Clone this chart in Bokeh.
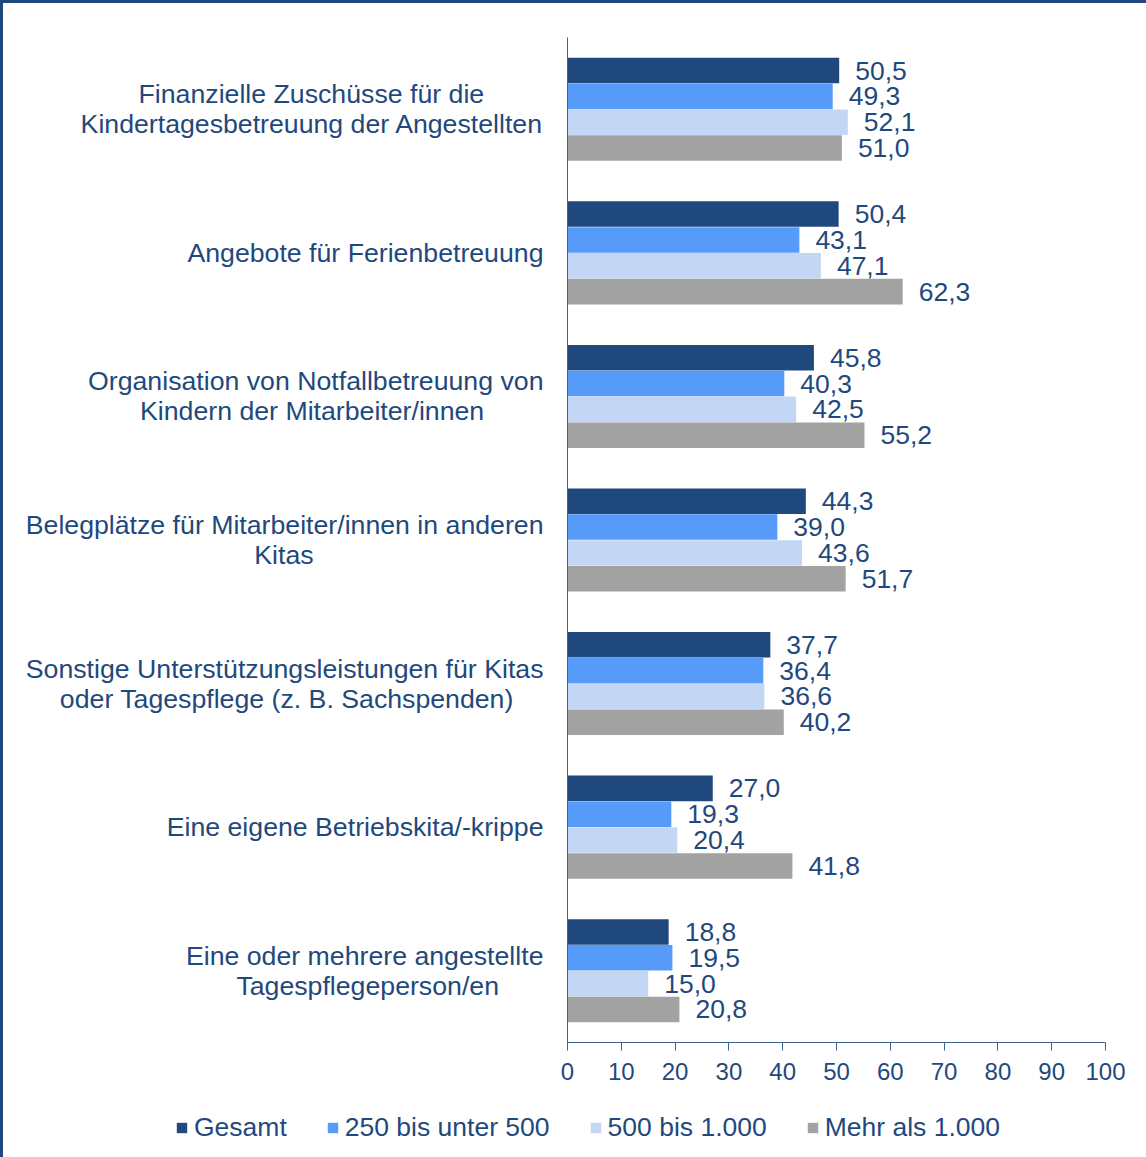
from bokeh.plotting import figure
from bokeh.models import ColumnDataSource, FactorRange, Range1d, Legend, LegendItem, FixedTicker
from bokeh.layouts import column
from bokeh.transform import dodge
from bokeh.core.properties import value
from bokeh.embed import file_html
from bokeh.resources import INLINE

categories = [
    "Finanzielle Zuschüsse für die\nKindertagesbetreuung der Angestellten",
    "Angebote für Ferienbetreuung",
    "Organisation von Notfallbetreuung von\nKindern der Mitarbeiter/innen",
    "Belegplätze für Mitarbeiter/innen in anderen\nKitas",
    "Sonstige Unterstützungsleistungen für Kitas\noder Tagespflege (z. B. Sachspenden)",
    "Eine eigene Betriebskita/-krippe",
    "Eine oder mehrere angestellte\nTagespflegeperson/en",
]
series_names = ["Gesamt", "250 bis unter 500", "500 bis 1.000", "Mehr als 1.000"]
gesamt = [50.5, 50.4, 45.8, 44.3, 37.7, 27.0, 18.8]
s250 = [49.3, 43.1, 40.3, 39.0, 36.4, 19.3, 19.5]
s500 = [52.1, 47.1, 42.5, 43.6, 36.6, 20.4, 15.0]
s1000 = [51.0, 62.3, 55.2, 51.7, 40.2, 41.8, 20.8]
x_ticks = [0, 10, 20, 30, 40, 50, 60, 70, 80, 90, 100]

colors = ["#1F497D", "#579BFA", "#C3D7F4", "#A2A2A2"]
text_color = "#1F497D"
font = "Liberation Sans"

# Arial / Liberation Sans advance widths (per 1000 em), used to centre the
# lines of the multi-line category labels against each other.
W = {' ': 278, 'a': 556, 'b': 556, 'c': 500, 'd': 556, 'e': 556, 'f': 278,
     'g': 556, 'h': 556, 'i': 222, 'j': 222, 'k': 500, 'l': 222, 'm': 833, 'n': 556,
     'o': 556, 'p': 556, 'q': 556, 'r': 333, 's': 500, 't': 278, 'u': 556, 'v': 500,
     'w': 722, 'x': 500, 'y': 500, 'z': 500, 'ü': 556, 'ä': 556, 'ö': 556,
     'A': 667, 'B': 667, 'C': 722, 'D': 722, 'E': 667, 'F': 611, 'G': 778, 'H': 722,
     'I': 278, 'J': 500, 'K': 667, 'L': 556, 'M': 833, 'N': 722, 'O': 778, 'P': 667,
     'Q': 778, 'R': 722, 'S': 667, 'T': 611, 'U': 722, 'V': 667, 'W': 944, 'X': 667,
     'Y': 667, 'Z': 611, '/': 278, '-': 333, '(': 333, ')': 333, '.': 278, ',': 278}

def centre_lines(label):
    lines = label.split("\n")
    if len(lines) == 1:
        return label
    widths = [sum(W.get(ch, 556) for ch in ln) for ln in lines]
    mw = max(widths)
    out = []
    for ln, w in zip(lines, widths):
        n = int(round((mw - w) / 2 / 278))
        out.append(ln + ("\u00a0" * n + "\u200b" if n else ""))
    return "\n".join(out)

def fmt(v):
    return f"{v:.1f}".replace(".", ",")

factors = [centre_lines(c) for c in categories]
data = dict(cat=factors)
keys = ["gesamt", "s250", "s500", "s1000"]
for k, arr in zip(keys, [gesamt, s250, s500, s1000]):
    data[k] = arr
    data[k + "_lbl"] = [fmt(v) for v in arr]
src = ColumnDataSource(data)

p = figure(
    width=1143, height=1099,
    y_range=FactorRange(*list(reversed(factors)), range_padding=0, factor_padding=0),
    x_range=Range1d(0, 100),
    output_backend="svg", toolbar_location=None,
    min_border_left=564, min_border_right=41, min_border_top=34, min_border_bottom=60,
)
p.outline_line_color = None
p.xgrid.grid_line_color = None
p.ygrid.grid_line_color = None

offsets = [0.27, 0.09, -0.09, -0.27]
for k, off, c in zip(keys, offsets, colors):
    p.hbar(y=dodge("cat", off, range=p.y_range), right=k, left=0, height=0.178,
           source=src, fill_color=c, line_color=None)
    p.text(x=k, y=dodge("cat", off, range=p.y_range), text=k + "_lbl", source=src,
           x_offset=16, text_align="left", text_baseline="middle",
           text_font=value(font), text_font_size="26.5px", text_color=text_color)

# axes
p.xaxis.ticker = FixedTicker(ticks=x_ticks)
p.xaxis.axis_line_color = "#3E618D"
p.xaxis.major_tick_line_color = "#3E618D"
p.xaxis.major_tick_out = 8
p.xaxis.major_tick_in = 0
p.xaxis.minor_tick_line_color = None
p.xaxis.major_label_text_font = font
p.xaxis.major_label_text_font_size = "24px"
p.xaxis.major_label_text_color = text_color
p.xaxis.major_label_standoff = 12

p.yaxis.axis_line_color = "#3E618D"
p.yaxis.major_tick_line_color = None
p.yaxis.major_tick_out = 0
p.yaxis.major_tick_in = 0
p.yaxis.minor_tick_line_color = None
p.yaxis.major_label_text_font = font
p.yaxis.major_label_text_font_size = "26.7px"
p.yaxis.major_label_text_color = text_color
p.yaxis.major_label_text_line_height = 1.0
p.yaxis.major_label_standoff = 24

# legend strip below the chart
p2 = figure(width=1143, height=55, x_range=Range1d(0, 1), y_range=Range1d(0, 1),
            output_backend="svg", toolbar_location=None,
            x_axis_location=None, y_axis_location=None,
            min_border_left=0, min_border_right=0, min_border_top=0, min_border_bottom=0)
p2.outline_line_color = None
p2.xgrid.grid_line_color = None
p2.ygrid.grid_line_color = None
p.frame_align = False
p2.frame_align = False
leg_renderers = [p2.hbar(y=[5], right=[0], left=0, height=0.1, fill_color=c, line_color=None)
                 for c in colors]
legend = Legend(
    items=[LegendItem(label=n, renderers=[r]) for n, r in zip(series_names, leg_renderers)],
    orientation="horizontal", location=(172, 14),
    label_text_font=font, label_text_font_size="26.5px", label_text_color=text_color,
    glyph_width=13, glyph_height=13, label_standoff=6, spacing=39,
    border_line_color=None, background_fill_alpha=0, margin=0, padding=0,
)
p2.add_layout(legend, "center")

layout = column(p, p2, spacing=0)
layout.styles = {"border-top": "3px solid #1F497D", "border-left": "3px solid #1F497D"}

open("out.html", "w").write(file_html(layout, INLINE))
